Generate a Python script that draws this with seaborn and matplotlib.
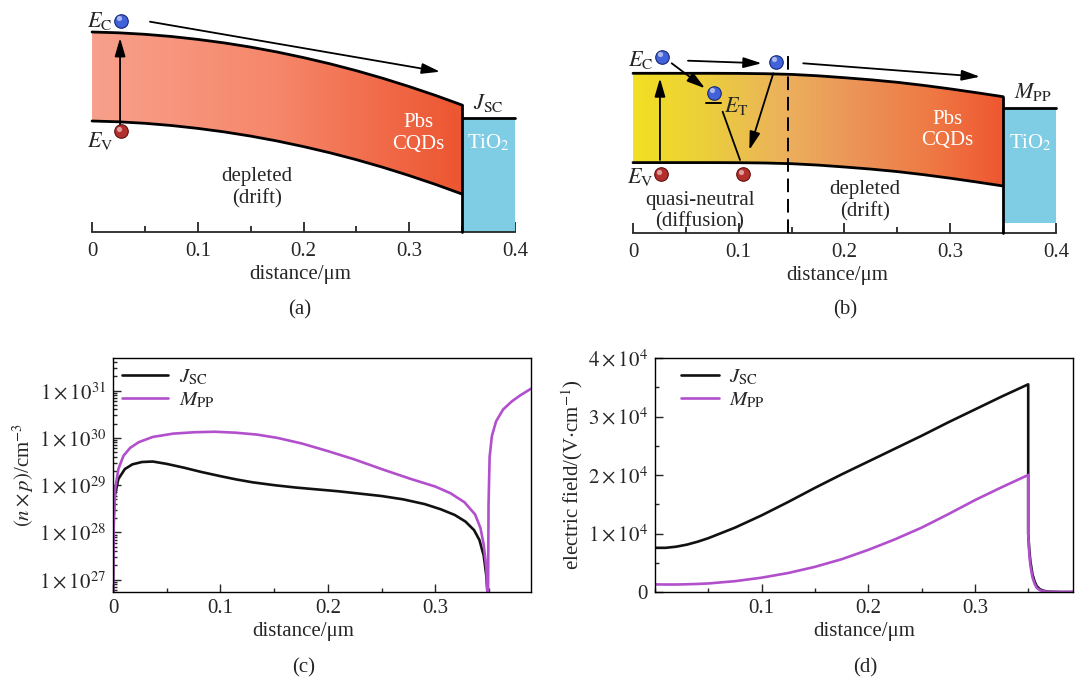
import numpy as np
import pandas as pd
import matplotlib
matplotlib.use('Agg')
import matplotlib.pyplot as plt
import seaborn as sns
from matplotlib.colors import LinearSegmentedColormap
from matplotlib.ticker import MultipleLocator, LogLocator, NullFormatter

# ---- data --------------------------------------------------------------
# band edges (arbitrary energy units) for the two band diagrams
band_x = [0, 0.025, 0.05, 0.075, 0.1, 0.125, 0.15, 0.175, 0.2, 0.225, 0.25, 0.275, 0.3, 0.325, 0.35]
a_ec = [2.000, 1.992, 1.977, 1.955, 1.926, 1.891, 1.849, 1.800, 1.744, 1.682, 1.613, 1.537, 1.454, 1.365, 1.269]
a_ev = [1.110, 1.102, 1.087, 1.065, 1.036, 1.001, 0.959, 0.910, 0.854, 0.792, 0.723, 0.647, 0.564, 0.475, 0.379]
b_ec = [1.597, 1.597, 1.597, 1.597, 1.596, 1.593, 1.586, 1.572, 1.553, 1.532, 1.507, 1.476, 1.441, 1.403, 1.363]
b_ev = [0.704, 0.704, 0.704, 0.704, 0.703, 0.700, 0.693, 0.679, 0.660, 0.639, 0.614, 0.583, 0.548, 0.510, 0.470]
tio2_a = (0.0, 1.14)
tio2_b = (0.097, 1.253)
depletion_edge = 0.147

# (n x p) product, log10 values
c_x_jsc = [0, 0.0005, 0.0016, 0.005, 0.011, 0.018, 0.027, 0.037, 0.05, 0.066, 0.082, 0.1, 0.115, 0.13,
           0.15, 0.17, 0.19, 0.21, 0.23, 0.25, 0.27, 0.29, 0.305, 0.318, 0.328, 0.336, 0.341, 0.345,
           0.3475, 0.349]
c_log_jsc = [26.5, 28.3, 28.77, 29.13, 29.34, 29.44, 29.49, 29.5, 29.45, 29.37, 29.28, 29.19, 29.12, 29.06,
             29.0, 28.95, 28.91, 28.87, 28.82, 28.77, 28.7, 28.6, 28.49, 28.37, 28.23, 28.05, 27.84, 27.51,
             27.07, 26.5]
c_x_mpp = [0, 0.0006, 0.002, 0.005, 0.0097, 0.016, 0.024, 0.037, 0.056, 0.076, 0.095, 0.114, 0.134, 0.153,
           0.176, 0.2, 0.224, 0.25, 0.276, 0.3, 0.314, 0.327, 0.337, 0.342, 0.345, 0.3475, 0.349, 0.3495,
           0.3505, 0.3526, 0.3565, 0.363, 0.371, 0.379, 0.389]
c_log_mpp = [26.5, 28.07, 28.92, 29.34, 29.62, 29.79, 29.91, 30.02, 30.09, 30.12, 30.13, 30.11, 30.07, 30.0,
             29.88, 29.72, 29.55, 29.34, 29.14, 28.97, 28.83, 28.64, 28.38, 28.09, 27.74, 27.23, 26.5, 28.6,
             29.6, 30.04, 30.35, 30.6, 30.77, 30.9, 31.04]

# electric field (V/cm)
d_x = [0, 0.01, 0.02, 0.03, 0.04, 0.05, 0.075, 0.1, 0.125, 0.15, 0.175, 0.2, 0.225, 0.25, 0.275, 0.3,
       0.325, 0.35, 0.35, 0.351, 0.352, 0.354, 0.356, 0.358, 0.361, 0.365, 0.37, 0.38, 0.392]
d_jsc = [7.55e3, 7.55e3, 7.75e3, 8.1e3, 8.6e3, 9.2e3, 1.10e4, 1.31e4, 1.54e4, 1.78e4, 2.01e4, 2.23e4,
         2.45e4, 2.67e4, 2.90e4, 3.12e4, 3.34e4, 3.55e4, 1.0e4, 7.2e3, 5.3e3, 3.0e3, 1.8e3, 1.0e3, 4.5e2,
         1.8e2, 50, 0, 0]
d_mpp = [1.3e3, 1.28e3, 1.28e3, 1.32e3, 1.38e3, 1.46e3, 1.85e3, 2.45e3, 3.25e3, 4.3e3, 5.6e3, 7.2e3,
         9.0e3, 1.1e4, 1.33e4, 1.57e4, 1.79e4, 2.0e4, 1.0e4, 6.5e3, 4.6e3, 2.5e3, 1.4e3, 7e2, 3e2, 1e2,
         30, 0, 0]

jsc_label = r'$J_{\rm SC}$'
mpp_label = r'$M_{\rm PP}$'
black, purple = '#111111', '#B24FCC'

# ---- style -------------------------------------------------------------
sns.set_style('ticks')
plt.rcParams['font.family'] = ['Liberation Serif', 'DejaVu Serif']
plt.rcParams['mathtext.fontset'] = 'stix'
plt.rcParams['font.size'] = 15

W, H = 1075, 681
fig = plt.figure(figsize=(W / 100, H / 100), dpi=100)


def frac(x0, y0, x1, y1):
    return [x0 / W, 1 - y1 / H, (x1 - x0) / W, (y1 - y0) / H]


def band_fill(ax, x, ec, ev, colors):
    cmap = LinearSegmentedColormap.from_list('band', colors)
    poly = ax.fill_between(x, ev, ec, facecolor='none', edgecolor='none')
    grad = np.linspace(0, 1, 256).reshape(1, -1)
    im = ax.imshow(grad, cmap=cmap, aspect='auto', origin='lower', zorder=1,
                   extent=[x[0], x[-1], min(ev), max(ec)])
    im.set_clip_path(poly.get_paths()[0], transform=ax.transData)


def ball(ax, x, y, kind):
    face, edge = ('#4162D8', '#16287C') if kind == 'e' else ('#B3302C', '#5E1210')
    ax.scatter([x], [y], s=95, color=face, edgecolor=edge, linewidth=0.8, zorder=6)
    ax.scatter([x - 0.002], [y + 0.025], s=14, color='white', alpha=0.55, linewidth=0, zorder=7)


def arrow(ax, start, end):
    ax.annotate('', xy=end, xytext=start, zorder=5,
                arrowprops=dict(arrowstyle='-|>,head_length=0.55,head_width=0.16', mutation_scale=20,
                                color='black', lw=1.3, shrinkA=0, shrinkB=0))


def diagram_axis(ax, xlim, ylim):
    ax.set_xlim(*xlim)
    ax.set_ylim(*ylim)
    for s in ['left', 'top', 'right']:
        ax.spines[s].set_visible(False)
    ax.spines['bottom'].set_position(('data', 0))
    ax.spines['bottom'].set_bounds(0, 0.4)
    ax.spines['bottom'].set_linewidth(1.3)
    ax.set_yticks([])
    ax.set_xticks([0, 0.1, 0.2, 0.3, 0.4], labels=['0', '0.1', '0.2', '0.3', '0.4'])
    ax.xaxis.set_minor_locator(MultipleLocator(0.05))
    ax.tick_params(axis='x', which='major', direction='in', length=7, width=1.3, labelsize=15, pad=7)
    ax.tick_params(axis='x', which='minor', direction='in', length=4, width=1.3)
    ax.set_xlabel('distance/μm', fontsize=15, labelpad=3)
    ax.patch.set_alpha(0)


# ---- (a) ---------------------------------------------------------------
ax = fig.add_axes(frac(60, 0, 540, 330))
band_fill(ax, band_x, a_ec, a_ev, ['#F8A08C', '#F6876A', '#EC5530'])
sns.lineplot(x=band_x, y=a_ec, ax=ax, color='black', lw=2, zorder=4)
sns.lineplot(x=band_x, y=a_ev, ax=ax, color='black', lw=2, zorder=4)
ax.fill_between([0.35, 0.4], tio2_a[0], tio2_a[1], color='#7FCCE5', lw=0, zorder=2)
ax.plot([0.35, 0.4], [tio2_a[1]] * 2, color='black', lw=2, zorder=4)
ax.plot([0.35, 0.35], [0, a_ec[-1]], color='black', lw=2, zorder=4)
ball(ax, 0.0271, 2.113, 'e')
ball(ax, 0.0271, 1.01, 'h')
arrow(ax, (0.0265, 1.06), (0.0265, 1.94))
arrow(ax, (0.0548, 2.103), (0.3291, 1.603))
ax.text(0.0076, 2.11, r'$E_{\rm C}$', fontsize=16, ha='center', va='center')
ax.text(0.0076, 0.91, r'$E_{\rm V}$', fontsize=16, ha='center', va='center')
ax.text(0.3745, 1.29, jsc_label, fontsize=16, ha='center', va='center')
ax.text(0.3083, 0.985, 'Pbs\nCQDs', color='white', ha='center', va='center', linespacing=1.2, zorder=5)
ax.text(0.3745, 0.89, r'TiO$_2$', color='white', ha='center', va='center', zorder=5)
ax.text(0.156, 0.445, 'depleted\n(drift)', ha='center', va='center', linespacing=1.2)
diagram_axis(ax, (-0.0303, 0.4236), (-0.98, 2.32))
fig.text(300 / W, 1 - 310 / H, '(a)', ha='center', va='center', fontsize=15)

# ---- (b) ---------------------------------------------------------------
ax = fig.add_axes(frac(600, 0, 1075, 330))
band_fill(ax, band_x, b_ec, b_ev, ['#F2E022', '#ECCE3C', '#EBB25C', '#EC9458', '#EE7A45', '#EE5630'])
sns.lineplot(x=band_x, y=b_ec, ax=ax, color='black', lw=2, zorder=4)
sns.lineplot(x=band_x, y=b_ev, ax=ax, color='black', lw=2, zorder=4)
ax.fill_between([0.35, 0.4], tio2_b[0], tio2_b[1], color='#7FCCE5', lw=0, zorder=2)
ax.plot([0.35, 0.4], [tio2_b[1]] * 2, color='black', lw=2, zorder=4)
ax.plot([0.35, 0.35], [0, b_ec[-1]], color='black', lw=2, zorder=4)
ax.plot([depletion_edge] * 2, [0, 1.83], color='black', lw=1.4, ls=(0, (7, 3.5)), zorder=4)
ball(ax, 0.0271, 1.763, 'e')
ball(ax, 0.0769, 1.403, 'e')
ball(ax, 0.1352, 1.713, 'e')
ball(ax, 0.0262, 0.59, 'h')
ball(ax, 0.1037, 0.59, 'h')
ax.plot([0.069, 0.083], [1.303, 1.303], color='black', lw=1.4, zorder=5)
ax.plot([0.0848, 0.1012], [1.213, 0.73], color='black', lw=1.3, zorder=5)
arrow(ax, (0.0366, 1.697), (0.0681, 1.447))
arrow(ax, (0.052, 1.723), (0.1217, 1.697))
arrow(ax, (0.1327, 1.597), (0.110, 0.83))
arrow(ax, (0.161, 1.697), (0.3281, 1.563))
arrow(ax, (0.0255, 0.73), (0.0255, 1.547))
ax.text(0.0076, 1.73, r'$E_{\rm C}$', fontsize=16, ha='center', va='center')
ax.text(0.0066, 0.56, r'$E_{\rm V}$', fontsize=16, ha='center', va='center')
ax.text(0.0974, 1.27, r'$E_{\rm T}$', fontsize=16, ha='center', va='center')
ax.text(0.378, 1.41, mpp_label, fontsize=16, ha='center', va='center')
ax.text(0.297, 1.03, 'Pbs\nCQDs', color='white', ha='center', va='center', linespacing=1.2, zorder=5)
ax.text(0.3754, 0.90, r'TiO$_2$', color='white', ha='center', va='center', zorder=5)
ax.text(0.0634, 0.22, 'quasi-neutral\n(diffusion)', ha='center', va='center', linespacing=1.12)
ax.text(0.2194, 0.32, 'depleted\n(drift)', ha='center', va='center', linespacing=1.2)
diagram_axis(ax, (-0.0312, 0.418), (-0.97, 2.33))
fig.text(845 / W, 1 - 310 / H, '(b)', ha='center', va='center', fontsize=15)


# ---- (c) and (d) -------------------------------------------------------
def profile_axis(ax, anchor_x, handlelength):
    for s in ax.spines.values():
        s.set_linewidth(1.0)
        s.set_color('black')
    ax.tick_params(which='both', direction='in', top=False, right=False, labelsize=15, width=1.0)
    ax.tick_params(which='major', length=6, pad=5)
    ax.tick_params(which='minor', length=3)
    ax.xaxis.set_minor_locator(MultipleLocator(0.05))
    ax.set_xlabel('distance/μm', fontsize=15, labelpad=3)
    handles, labels = ax.get_legend_handles_labels()
    ax.legend(handles, labels, loc='upper left', bbox_to_anchor=(anchor_x, 1.0), frameon=False,
              fontsize=15, handlelength=handlelength, handletextpad=0.5, labelspacing=0.15,
              borderaxespad=0.15, borderpad=0.3)


c_df = pd.concat([
    pd.DataFrame({'distance': c_x_jsc, 'np': 10 ** np.array(c_log_jsc), 'case': jsc_label}),
    pd.DataFrame({'distance': c_x_mpp, 'np': 10 ** np.array(c_log_mpp), 'case': mpp_label}),
])
ax = fig.add_axes(frac(113, 358, 531, 592))
sns.lineplot(data=c_df, x='distance', y='np', hue='case', palette=[black, purple],
             estimator=None, sort=False, lw=1.9, ax=ax)
ax.set_yscale('log')
ax.set_xlim(0, 0.389)
ax.set_ylim(10 ** 26.74, 10 ** 31.69)
ax.set_xticks([0, 0.1, 0.2, 0.3], labels=['0', '0.1', '0.2', '0.3'])
ax.set_yticks([10.0 ** k for k in range(27, 32)],
              labels=[r'$1\times10^{%d}$' % k for k in range(27, 32)])
ax.yaxis.set_minor_locator(LogLocator(base=10, subs=np.arange(2, 10)))
ax.yaxis.set_minor_formatter(NullFormatter())
profile_axis(ax, 0.0, 2.2)
ax.set_ylabel(r'$(n\times p)$/cm$^{-3}$', fontsize=15, labelpad=2)
ax.xaxis.label.set_x(0.455)
fig.text(304 / W, 1 - 668 / H, '(c)', ha='center', va='center', fontsize=15)

d_df = pd.concat([
    pd.DataFrame({'distance': d_x, 'field': d_jsc, 'case': jsc_label}),
    pd.DataFrame({'distance': d_x, 'field': d_mpp, 'case': mpp_label}),
])
ax = fig.add_axes(frac(655, 358, 1073, 592))
sns.lineplot(data=d_df, x='distance', y='field', hue='case', palette=[black, purple],
             estimator=None, sort=False, lw=1.9, ax=ax)
ax.set_xlim(0, 0.392)
ax.set_ylim(0, 4e4)
ax.set_xticks([0.1, 0.2, 0.3], labels=['0.1', '0.2', '0.3'])
ax.set_yticks([0, 1e4, 2e4, 3e4, 4e4],
              labels=['0'] + [r'$%d\times10^{4}$' % k for k in range(1, 5)])
ax.yaxis.set_minor_locator(MultipleLocator(5e3))
profile_axis(ax, 0.04, 1.8)
ax.set_ylabel(r'electric field/(V$\cdot$cm$^{-1}$)', fontsize=15, labelpad=2)
fig.text(865 / W, 1 - 668 / H, '(d)', ha='center', va='center', fontsize=15)

fig.savefig('out.png', dpi=100)
